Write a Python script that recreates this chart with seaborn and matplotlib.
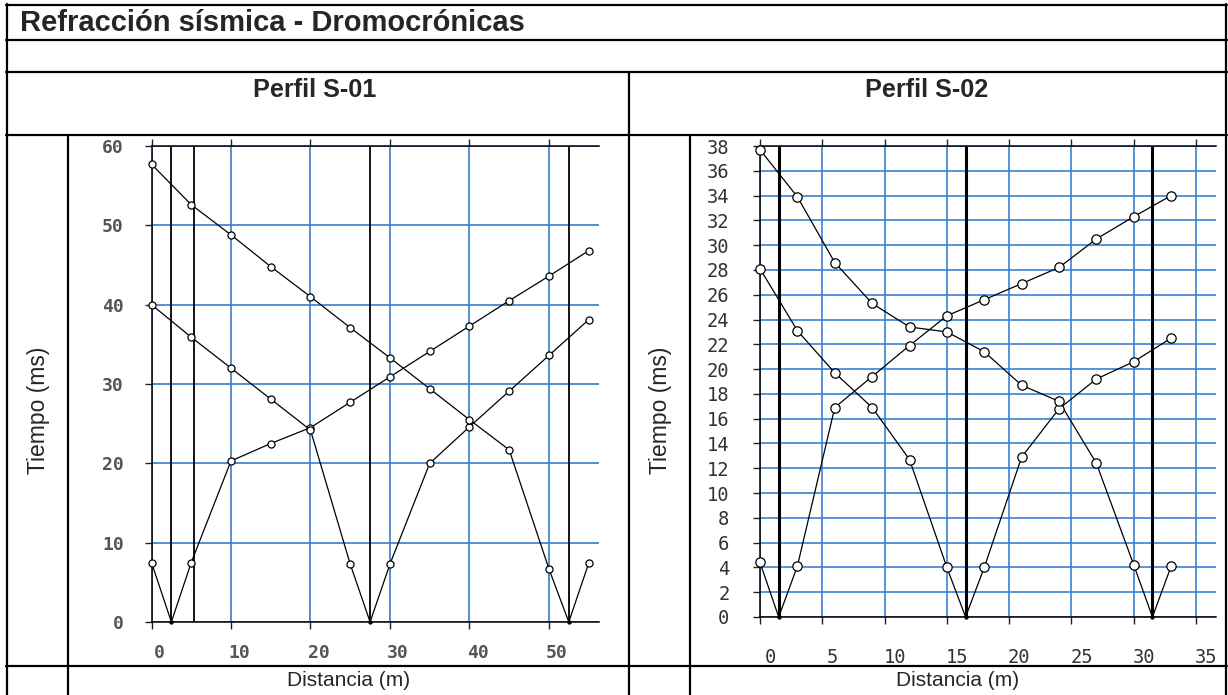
import numpy as np
import pandas as pd
import matplotlib
matplotlib.use("Agg")
import matplotlib.pyplot as plt
from matplotlib.lines import Line2D
from matplotlib.transforms import ScaledTranslation
import seaborn as sns

# ---------------- Perfil S-01 ----------------
s01_geophones = [0, 5, 10, 15, 20, 25, 30, 35, 40, 45, 50, 55]
s01_shots = [2.5, 27.5, 52.5]
s01_shot1 = [7.5, 7.5, 20.3, 22.5, 24.5, 27.7, 30.9, 34.1, 37.3, 40.5, 43.6, 46.8]
s01_shot2 = [40.0, 35.9, 32.0, 28.1, 24.2, 7.3, 7.3, 20.0, 24.6, 29.1, 33.6, 38.1]
s01_shot3 = [57.7, 52.6, 48.8, 44.8, 41.0, 37.1, 33.3, 29.4, 25.5, 21.7, 6.7, 7.4]
s01_vlines = [2.5, 5.4, 27.5, 52.5]
s01_xticks = [0, 10, 20, 30, 40, 50]
s01_yticks = [0, 10, 20, 30, 40, 50, 60]

# ---------------- Perfil S-02 ----------------
s02_geophones = [0, 3, 6, 9, 12, 15, 18, 21, 24, 27, 30, 33]
s02_shots = [1.5, 16.5, 31.5]
s02_shot1 = [4.4, 4.1, 16.9, 19.4, 21.9, 24.3, 25.6, 26.9, 28.2, 30.5, 32.3, 34.0]
s02_shot2 = [28.1, 23.1, 19.7, 16.9, 12.7, 4.0, 4.0, 12.9, 16.8, 19.2, 20.6, 22.5]
s02_shot3 = [37.7, 33.9, 28.6, 25.3, 23.4, 23.0, 21.4, 18.7, 17.4, 12.4, 4.2, 4.1]
s02_vlines = [1.5, 16.5, 31.5]
s02_xticks = [0, 5, 10, 15, 20, 25, 30, 35]
s02_yticks = list(range(0, 39, 2))

title = "Refracción sísmica - Dromocrónicas"
headers = ["Perfil S-01", "Perfil S-02"]
ylabel = "Tiempo (ms)"
xlabel = "Distancia (m)"

sns.set_style("white")
plt.rcParams["font.family"] = ["Liberation Sans", "DejaVu Sans"]

W, H = 1228, 695
fig = plt.figure(figsize=(W / 100, H / 100), dpi=100)
fig.patch.set_facecolor("white")


def fx(px):
    return px / W


def fy(py):
    return 1 - py / H


def hline(y, x0, x1, lw=1.6):
    fig.add_artist(Line2D([fx(x0), fx(x1)], [fy(y), fy(y)], color="black",
                          lw=lw, transform=fig.transFigure))


def vline(x, y0, y1, lw=1.6):
    fig.add_artist(Line2D([fx(x), fx(x)], [fy(y0), fy(y1)], color="black",
                          lw=lw, transform=fig.transFigure))


# table frame
hline(5, 6, 1227)
hline(40, 6, 1227)
hline(72, 6, 1227)
hline(135, 6, 1227)
hline(666, 6, 1227)
vline(7, 4, 695)
vline(1226, 4, 695)
vline(629, 72, 695)
vline(68, 135, 695)
vline(690, 135, 695)

fig.text(fx(20), fy(23), title, fontsize=21, fontweight="bold",
         ha="left", va="center")
fig.text(fx(315), fy(90), headers[0], fontsize=18.2, fontweight="bold",
         ha="center", va="center")
fig.text(fx(927), fy(90), headers[1], fontsize=18.2, fontweight="bold",
         ha="center", va="center")
fig.text(fx(38), fy(410), ylabel, fontsize=16.5, rotation=90,
         ha="center", va="center")
fig.text(fx(660), fy(410), ylabel, fontsize=16.5, rotation=90,
         ha="center", va="center")
fig.text(fx(349), fy(681), xlabel, fontsize=15, ha="center", va="center")
fig.text(fx(958), fy(681), xlabel, fontsize=15, ha="center", va="center")


def draw_panel(ax, geophones, shots, series, vlines, xticks, yticks, xlim, ylim,
               grid_color, vline_lw, marker_s, label_kw, xpad, ypad, xshift):
    ax.set_facecolor("white")
    for shot, times in zip(shots, series):
        df = pd.DataFrame({"x": list(geophones) + [shot],
                           "t": list(times) + [0.0]}).sort_values("x")
        sns.lineplot(data=df, x="x", y="t", ax=ax, color="black", lw=0.9,
                     estimator=None, sort=True, zorder=4, clip_on=False)
        sns.scatterplot(x=list(geophones), y=list(times), ax=ax, s=marker_s,
                        facecolor="white", edgecolor="black", linewidth=0.9,
                        zorder=5, clip_on=False)
        sns.scatterplot(x=[shot], y=[0.0], ax=ax, s=8, color="black",
                        edgecolor="black", zorder=5, clip_on=False)
    for v in vlines:
        ax.plot([v, v], [ylim[0], ylim[1]], color="black", lw=vline_lw,
                zorder=3, solid_capstyle="butt")
    ax.set_xlim(*xlim)
    ax.set_ylim(*ylim)
    ax.set_xticks(xticks)
    ax.set_yticks(yticks)
    ax.grid(True, color=grid_color, lw=1.2)
    ax.set_axisbelow(True)
    for side in ["left", "bottom", "top"]:
        ax.spines[side].set_visible(True)
        ax.spines[side].set_color("black")
        ax.spines[side].set_linewidth(1.1)
    ax.spines["right"].set_visible(False)
    ax.tick_params(axis="x", which="both", direction="out", length=5, width=1,
                   color="#222222", top=True, bottom=True, labeltop=False,
                   pad=xpad)
    ax.tick_params(axis="y", which="both", direction="out", length=5, width=1,
                   color="#222222", left=True, right=False, pad=ypad)
    ax.set_xlabel("")
    ax.set_ylabel("")
    for lab in ax.get_xticklabels() + ax.get_yticklabels():
        lab.set_fontfamily("DejaVu Sans Mono")
        lab.set(**label_kw)
    shift = ScaledTranslation(xshift / 100, 0, fig.dpi_scale_trans)
    for lab in ax.get_xticklabels():
        lab.set_transform(lab.get_transform() + shift)


ax1 = fig.add_axes([fx(151.5), fy(622), (599 - 151.5) / W, (622 - 146) / H])
draw_panel(ax1, s01_geophones, s01_shots, [s01_shot1, s01_shot2, s01_shot3],
           s01_vlines, s01_xticks, s01_yticks, (0, 56.3), (0, 60),
           "#3b7cc8", 1.3, 26,
           dict(fontsize=13, color="#555555", fontweight="bold"),
           xpad=11, ypad=15, xshift=8)

ax2 = fig.add_axes([fx(760), fy(617), (1216 - 760) / W, (617 - 146) / H])
draw_panel(ax2, s02_geophones, s02_shots, [s02_shot1, s02_shot2, s02_shot3],
           s02_vlines, s02_xticks, s02_yticks, (0, 36.6), (0, 38),
           "#3783d6", 2.2, 45,
           dict(fontsize=13.5, color="#333333"),
           xpad=17, ypad=17, xshift=10)

fig.savefig("out.png", dpi=100, facecolor="white")
